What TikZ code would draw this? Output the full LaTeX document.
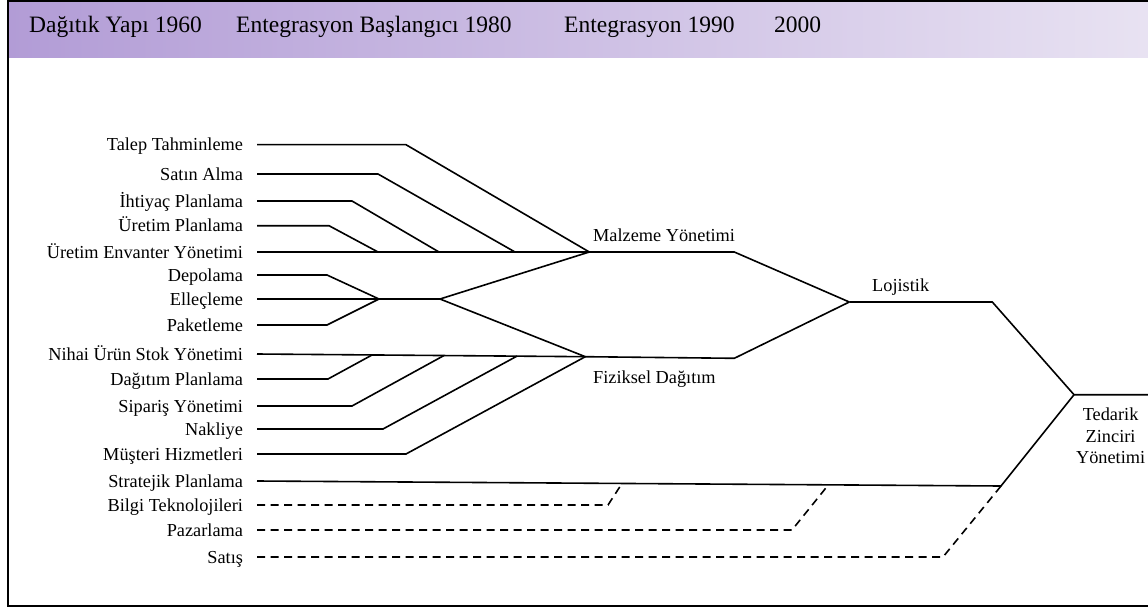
\documentclass[tikz,border=0pt]{standalone}
\usepackage{fontspec}
\setmainfont{Liberation Serif}
\usetikzlibrary{positioning,calc}
\definecolor{headlila}{RGB}{178,156,214}
\definecolor{headpale}{RGB}{232,226,242}

\begin{document}
\begin{tikzpicture}[x=1pt, y=-1pt,
  lbl/.style={anchor=east, inner sep=0pt, outer xsep=14pt,
              text height=12pt, text depth=0pt,
              font=\fontsize{18.3}{22}\selectfont},
  hd/.style={anchor=base west, inner sep=0pt,
             font=\fontsize{23.5}{28}\selectfont},
  ttl/.style={anchor=base west, inner sep=0pt,
              font=\fontsize{18.3}{22}\selectfont},
  ln/.style={line width=1.6pt},
  dln/.style={line width=1.6pt, dash pattern=on 8pt off 5.5pt},
]
  \useasboundingbox (0,0) rectangle (1148,607);
  % header band
  \shade[left color=headlila, right color=headpale] (7.5,0) rectangle (1148,58);
  \node[hd] (h1) at (29,33) {Dağıtık Yapı 1960};
  \node[hd] (h2) at (236,33) {Entegrasyon Başlangıcı 1980};
  \node[hd] (h3) at (564,33) {Entegrasyon 1990};
  \node[hd] (h4) at (774,33) {2000};
  \draw[line width=2pt] (1148,1) -- (7.5,1) -- (7.5,606) -- (1148,606);

  % activities
  \foreach \n/\y/\t in {talep/144.7/Talep Tahminleme, satin/174/Satın Alma,
      ihtiyac/201/İhtiyaç Planlama, uretim/225.7/Üretim Planlama,
      uey/252/Üretim Envanter Yönetimi, depo/275/Depolama,
      ellec/299/Elleçleme, paket/325/Paketleme,
      nihai/354/Nihai Ürün Stok Yönetimi, dagitim/379/Dağıtım Planlama,
      siparis/406/Sipariş Yönetimi, nakliye/429/Nakliye,
      musteri/454/Müşteri Hizmetleri, strat/481/Stratejik Planlama,
      bilgi/505/Bilgi Teknolojileri, pazar/530/Pazarlama, satis/557/Satış}{
    \node[lbl] (\n) at (257,\y) {\t};
  }

  \coordinate (my) at (589.3,252);
  \coordinate (myend) at (734.3,252);
  \coordinate (fd) at (585.3,356.7);
  \coordinate (fdend) at (734.3,358.3);
  \coordinate (lj) at (849.3,302);
  \coordinate (ljend) at (992.3,302);
  \coordinate (tz) at (1074,394.7);
  \coordinate (tzend) at (1148,394.7);
  \coordinate (sp) at (1001,486);
  \coordinate (el) at (379,299);
  \coordinate (es) at (440,299);

  % Malzeme Yonetimi
  \foreach \n/\run/\ex in {talep/149/589.3, satin/121/515,
      ihtiyac/95/439, uretim/72/378}{
    \draw[ln] (\n.east) -- ++(\run,0) -- (\ex,252);
  }
  \draw[ln] (uey.east) -- (my) -- (myend) -- (lj);
  \foreach \n in {depo, paket}{
    \draw[ln] (\n.east) -- ++(70,0) -- (el);
  }
  \draw[ln] (ellec.east) -- (es);
  \draw[ln] (my) -- (es) -- (fd);

  % Fiziksel Dagitim
  \draw[ln] (nihai.east) -- (fd) -- (fdend) -- (lj);
  \foreach \n/\run/\ex/\ey in {dagitim/71/372/355, siparis/95/444/355.5,
      nakliye/126/517/356.1, musteri/149/585.3/356.7}{
    \draw[ln] (\n.east) -- ++(\run,0) -- (\ex,\ey);
  }

  % Lojistik -> Tedarik Zinciri
  \draw[ln] (lj) -- (ljend) -- (tz) -- (tzend);
  \draw[ln] (strat.east) -- (sp) -- (tz);
  \draw[dln] (bilgi.east) -- (608,505) -- (622,483.5);
  \draw[dln] (pazar.east) -- (792,530) -- (828.6,484.6);
  \draw[dln] (satis.east) -- (943,557) -- (sp);

  \node[ttl] (mytxt) at (593,241) {Malzeme Yönetimi};
  \node[ttl] (fdtxt) at (593,383) {Fiziksel Dağıtım};
  \node[ttl] (ljtxt) at (872,291.5) {Lojistik};
  \node[inner sep=0pt, anchor=north, align=center,
        font=\fontsize{18.3}{21.7}\selectfont] (tztxt) at (1110.6,407.5)
    {Tedarik\\Zinciri\\Yönetimi};
\end{tikzpicture}
\end{document}
